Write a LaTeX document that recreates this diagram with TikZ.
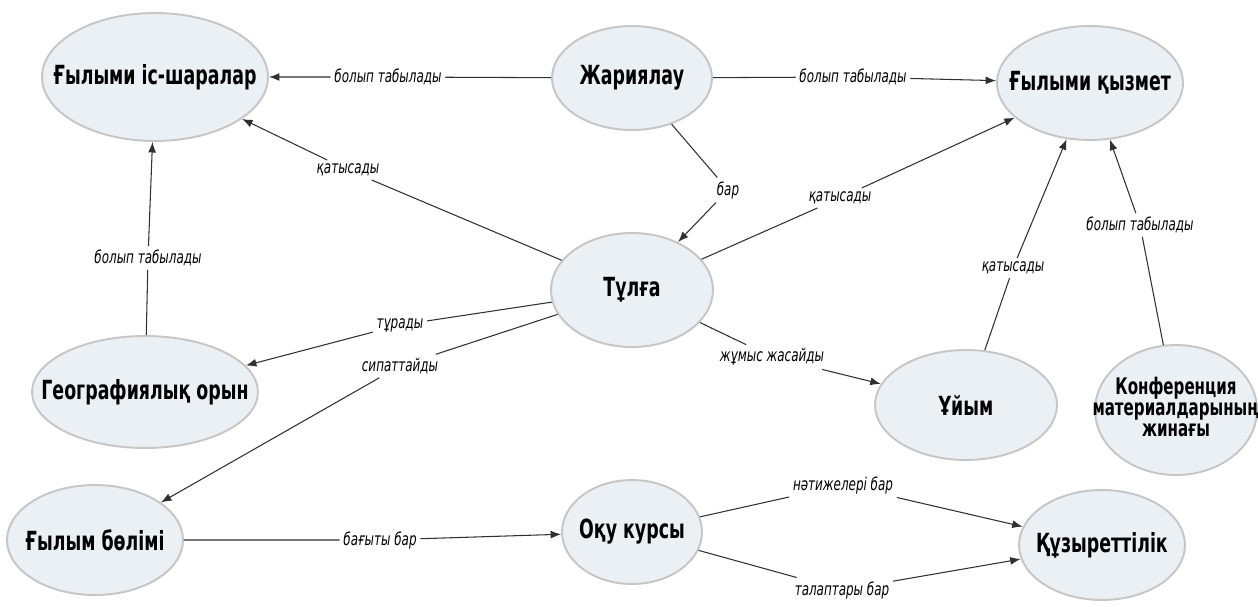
\documentclass[tikz,border=0pt]{standalone}
\usepackage{fontspec}
\newfontfamily\conceptfont{DejaVu Sans}[FakeStretch=0.66]
\newfontfamily\relfont{DejaVu Sans}[FakeStretch=0.68]
\usetikzlibrary{shapes.geometric,arrows,arrows.meta}
\definecolor{nodefill}{HTML}{EAF0F4}
\definecolor{nodeline}{HTML}{C6C6C6}
\definecolor{linegray}{HTML}{303030}
\newcommand{\ctext}[1]{\makebox[0pt]{#1}}

\tikzset{
  concept/.style={ellipse,draw=nodeline,line width=1.1pt,fill=nodefill,inner sep=0pt,
    font=\conceptfont\bfseries\fontsize{15}{18}\selectfont},
  rel/.style={draw=linegray,line width=0.6pt,-{Latex[length=6pt,width=4.5pt]}},
  lbl/.style={font=\relfont\itshape\fontsize{10}{12}\selectfont,inner sep=2pt}
}

\begin{document}
\begin{tikzpicture}[x=0.02cm,y=-0.02cm]
  \useasboundingbox (0,0) rectangle (1258,606);
  % concepts
  \node[concept,minimum width=4.52cm,minimum height=2.56cm](isshara)at(155,77){\ctext{Ғылыми іс-шаралар}};
  \node[concept,minimum width=3.2cm,minimum height=2.08cm](zhar)at(632,78){\ctext{Жариялау}};
  \node[concept,minimum width=3.72cm,minimum height=2.28cm](qyzmet)at(1090,83){\ctext{Ғылыми қызмет}};
  \node[concept,minimum width=3.24cm,minimum height=2.28cm](tulga)at(632,290){\ctext{Тұлға}};
  \node[concept,minimum width=4.52cm,minimum height=2.24cm](geo)at(145,392){\ctext{Географиялық орын}};
  \node[concept,minimum width=3.64cm,minimum height=2.2cm](uiym)at(966,405){\ctext{Ұйым}};
  \node[concept,minimum width=3.24cm,minimum height=2.6cm](konf)at(1176,410)
    {\ctext{\fontsize{13}{12}\selectfont\begin{tabular}{@{}c@{}}Конференция\\материалдарының\\жинағы\end{tabular}}};
  \node[concept,minimum width=3.52cm,minimum height=2.2cm](bolim)at(95,540){\ctext{Ғылым бөлімі}};
  \node[concept,minimum width=2.8cm,minimum height=2.08cm](oqu)at(632,532){\ctext{Оқу курсы}};
  \node[concept,minimum width=3.32cm,minimum height=2.2cm](quz)at(1102,545){\ctext{Құзыреттілік}};
  % relation labels
  \node[lbl](l1)at(388,77){болып табылады};
  \node[lbl](l2)at(853,77){болып табылады};
  \node[lbl](l3)at(728,190){бар};
  \node[lbl](l4)at(348,170){қатысады};
  \node[lbl](l5)at(840,198){қатысады};
  \node[lbl](l6)at(400,325){тұрады};
  \node[lbl](l7)at(400,366){сипаттайды};
  \node[lbl](l8)at(772,357){жұмыс жасайды};
  \node[lbl](l9)at(148,258){болып табылады};
  \node[lbl](l10)at(1013,268){қатысады};
  \node[lbl](l11)at(1140,225){болып табылады};
  \node[lbl](l12)at(380,540){бағыты бар};
  \node[lbl](l13)at(843,485){нәтижелері бар};
  \node[lbl](l14)at(842,590){талаптары бар};
  % relations
  \draw[rel](zhar)--(l1)--(isshara);
  \draw[rel](zhar)--(l2)--(qyzmet);
  \draw[rel](zhar)--(l3)--(tulga);
  \draw[rel](tulga)--(l4)--(isshara);
  \draw[rel](tulga)--(l5)--(qyzmet);
  \draw[rel](tulga)--(l6)--(geo);
  \draw[rel](tulga)--(l7)--(bolim);
  \draw[rel](tulga)--(l8)--(uiym);
  \draw[rel](geo)--(l9)--(isshara);
  \draw[rel](uiym)--(l10)--(qyzmet);
  \draw[rel](konf)--(l11)--(qyzmet);
  \draw[rel](bolim)--(l12)--(oqu);
  \draw[rel](oqu)--(l13)--(quz);
  \draw[rel](oqu)--(l14)--(quz);
\end{tikzpicture}
\end{document}
